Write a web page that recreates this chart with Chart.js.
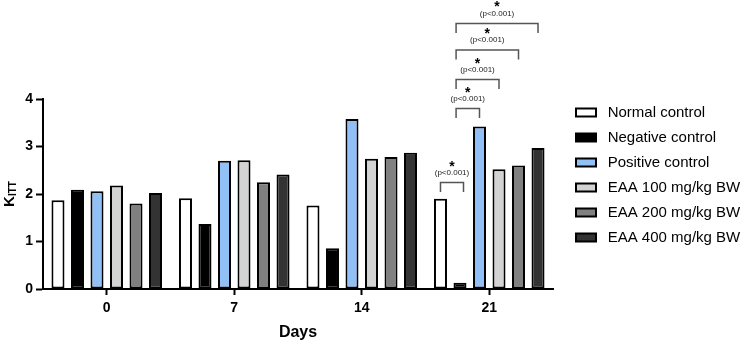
<!DOCTYPE html>
<html>
<head>
<meta charset="utf-8">
<script src="https://cdn.jsdelivr.net/npm/chart.js@4/dist/chart.umd.min.js"></script>
<style>
  html, body { margin: 0; padding: 0; background: #ffffff; }
  #wrap { width: 753px; height: 342px; }
</style>
</head>
<body>
<div id="wrap"><canvas id="c" width="753" height="342"></canvas></div>
<script>
// ---- data ----
const days = ['0', '7', '14', '21'];
const seriesNames = ['Normal control', 'Negative control', 'Positive control',
  'EAA 100 mg/kg BW', 'EAA 200 mg/kg BW', 'EAA 400 mg/kg BW'];
const normalControl   = [1.87, 1.91, 1.76, 1.90];
const negativeControl = [2.09, 1.37, 0.86, 0.13];
const positiveControl = [2.06, 2.70, 3.58, 3.42];
const eaa100          = [2.18, 2.71, 2.74, 2.52];
const eaa200          = [1.80, 2.25, 2.78, 2.60];
const eaa400          = [2.02, 2.41, 2.87, 2.97];
const yTicks = [0, 1, 2, 3, 4];
// significance brackets (all at day 21): series index pairs and level (y value)
const bracketFrom  = [0, 1, 1, 1, 1];
const bracketTo    = [1, 2, 3, 4, 5];
const bracketLevel = [2.24, 3.80, 4.41, 5.03, 5.59];
const bracketText  = '(p<0.001)';
const bracketStar  = '*';
const bracketDay   = 3;

// ---- styles ----
const fillColors = ['#ffffff', '#000000', '#90c0f5', '#d3d3d3', '#808080', '#333333'];
const FONT = "'Liberation Sans', Arial, Helvetica, sans-serif";
const seriesValues = [normalControl, negativeControl, positiveControl, eaa100, eaa200, eaa400];

const datasets = seriesValues.map((vals, i) => ({
  label: seriesNames[i],
  data: vals,
  backgroundColor: fillColors[i],
  borderColor: '#000000',
  borderWidth: 2,
  borderSkipped: false,
  categoryPercentage: 0.918,
  barPercentage: 0.667
}));

const bracketPlugin = {
  id: 'sigBrackets',
  afterDatasetsDraw(chart) {
    const ctx = chart.ctx;
    const ys = chart.scales.y;
    // bars touched by more than one bracket get their ends nudged apart
    const touch = {};
    bracketFrom.forEach((f, k) => { touch[f] = (touch[f] || 0) + 1; touch[bracketTo[k]] = (touch[bracketTo[k]] || 0) + 1; });
    ctx.save();
    bracketFrom.forEach((f, k) => {
      const t = bracketTo[k];
      const b1 = chart.getDatasetMeta(f).data[bracketDay];
      const b2 = chart.getDatasetMeta(t).data[bracketDay];
      let x1 = b1.x, x2 = b2.x;
      if (touch[f] > 1) x1 -= b1.width * 0.3;
      if (touch[t] > 1) x2 += b2.width * 0.27;
      const yl = ys.getPixelForValue(bracketLevel[k]);
      const leg = 9.5;
      ctx.strokeStyle = '#555555';
      ctx.lineWidth = 1.5;
      ctx.beginPath();
      ctx.moveTo(x1, yl + leg);
      ctx.lineTo(x1, yl);
      ctx.lineTo(x2, yl);
      ctx.lineTo(x2, yl + leg);
      ctx.stroke();
      const xm = (x1 + x2) / 2;
      ctx.textAlign = 'center';
      ctx.fillStyle = '#222222';
      ctx.font = '8px ' + FONT;
      ctx.textBaseline = 'middle';
      ctx.fillText(bracketText, xm, yl - 10);
      ctx.fillStyle = '#000000';
      ctx.font = 'bold 14px ' + FONT;
      ctx.textBaseline = 'alphabetic';
      ctx.fillText(bracketStar, xm, yl - 12);
    });
    ctx.restore();
  }
};

const yTitlePlugin = {
  id: 'yTitle',
  afterDraw(chart) {
    const ctx = chart.ctx;
    const area = chart.chartArea;
    const cy = (area.top + area.bottom) / 2;
    ctx.save();
    ctx.translate(13.5, cy);
    ctx.rotate(-Math.PI / 2);
    ctx.fillStyle = '#000000';
    ctx.textBaseline = 'alphabetic';
    ctx.textAlign = 'left';
    const mainFont = 'bold 15px ' + FONT;
    const subFont = 'bold 10px ' + FONT;
    ctx.font = mainFont;
    const wK = ctx.measureText('K').width;
    ctx.font = subFont;
    const wS = ctx.measureText('ITT').width;
    const x0 = -(wK + wS) / 2;
    ctx.font = mainFont;
    ctx.fillText('K', x0, 0);
    ctx.font = subFont;
    ctx.fillText('ITT', x0 + wK, 2);
    ctx.restore();
  }
};

new Chart(document.getElementById('c'), {
  type: 'bar',
  data: { labels: days, datasets: datasets },
  options: {
    responsive: false,
    animation: false,
    devicePixelRatio: 1,
    layout: { padding: { top: 95, left: 0, right: 7, bottom: 0 } },
    plugins: {
      title: { display: true, text: '', padding: 0, font: { size: 4, lineHeight: 1 } },
      tooltip: { enabled: false },
      legend: {
        position: 'right',
        align: 'start',
        maxWidth: 180,
        labels: {
          boxWidth: 20,
          boxHeight: 8,
          padding: 10,
          color: '#000000',
          font: { family: FONT, size: 15 },
          generateLabels(chart) {
            return chart.data.datasets.map((ds, i) => ({
              text: ' ' + ds.label,
              fillStyle: ds.backgroundColor,
              strokeStyle: '#000000',
              lineWidth: 2,
              hidden: false,
              datasetIndex: i,
              fontColor: '#000000'
            }));
          }
        }
      }
    },
    scales: {
      x: {
        type: 'category',
        grid: { display: true, offset: false, drawOnChartArea: false, drawTicks: true,
                tickLength: 6, tickWidth: 2, tickColor: '#000000' },
        border: { display: true, color: '#000000', width: 2 },
        ticks: { color: '#000000', padding: 5, font: { family: FONT, size: 14, weight: 'bold' } },
        title: { display: true, text: 'Days', color: '#000000',
                 font: { family: FONT, size: 16, weight: 'bold' }, padding: { top: 1, bottom: 0 } }
      },
      y: {
        min: 0, max: 4,
        afterBuildTicks(scale) { scale.ticks = yTicks.map(v => ({ value: v })); },
        afterFit(scale) { scale.width = 43; },
        grid: { display: true, drawOnChartArea: false, drawTicks: true,
                tickLength: 7, tickWidth: 2, tickColor: '#000000' },
        border: { display: true, color: '#000000', width: 2 },
        ticks: { color: '#000000', padding: 3, font: { family: FONT, size: 14, weight: 'bold' } }
      },
      spacer: {
        type: 'linear', position: 'right', axis: 'y',
        afterFit(scale) { scale.width = 13; },
        grid: { display: false }, border: { display: false }, ticks: { display: false }
      }
    }
  },
  plugins: [bracketPlugin, yTitlePlugin]
});
</script>
</body>
</html>
